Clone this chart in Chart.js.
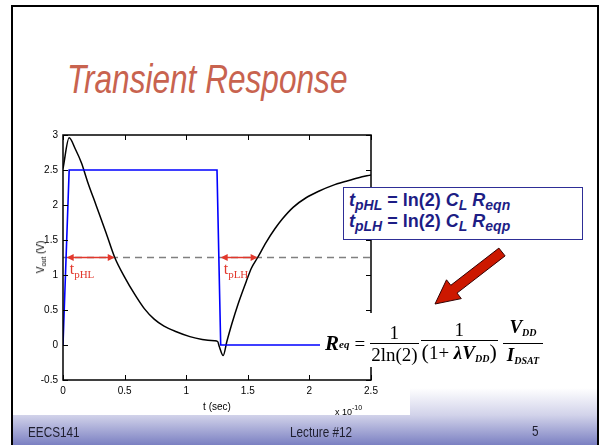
<!DOCTYPE html>
<html>
<head>
<meta charset="utf-8">
<script src="https://cdn.jsdelivr.net/npm/chart.js@4"></script>
<style>
  html, body { margin:0; padding:0; }
  body { width:602px; height:445px; position:relative; overflow:hidden; background:#fff; font-family:'Liberation Sans', Arial, sans-serif; }
  .abs { position:absolute; }
  #slideBg { left:12px; top:5px; width:586px; height:440px;
    background: linear-gradient(to bottom, #ffffff 0px, #ffffff 383px, #d2d3ea 410px, #7b80c2 440px); }
  #figBg { left:13px; top:110px; width:397px; height:305px; background:#fff; }
  #bL { left:11px; top:5px; width:2px; height:440px; background:#000; }
  #bT { left:11px; top:5px; width:588px; height:2px; background:#000; }
  #bR { left:597px; top:5px; width:2px; height:440px; background:#000; }
  #chartWrap { left:0; top:0; width:602px; height:445px; }
  #title { left:67px; top:59px; font-size:40px; line-height:40px; font-style:italic; color:#c8634f; transform:scaleX(0.79); transform-origin:left top; white-space:nowrap; }
  .foot { font-size:14px; line-height:14px; color:#1e1e2e; transform:scaleX(0.84); transform-origin:left top; white-space:nowrap; }
  #ylab { left:41px; top:257px; font-size:10px; transform:translate(-50%,-50%) rotate(-90deg); white-space:nowrap; color:#000; }
  #ylab sub { font-size:7px; vertical-align:-2px; }
  #xmul { left:335px; top:403px; font-size:9px; line-height:10px; white-space:nowrap; color:#000; }
  #xmul sup { font-size:7px; vertical-align:5px; }
  #tpBox { left:343px; top:187px; width:238px; height:51px; border:1.5px solid #2e2e96; background:#fff; }
  .tpLine { position:absolute; left:5px; font-weight:bold; font-size:18px; color:#1d1d85; white-space:nowrap; }
  .tpLine i { font-style:italic; }
  .tpLine sub { font-size:14px; font-style:italic; vertical-align:-4px; }
  #eqBox { left:320px; top:313px; width:245px; height:54px; background:#fff; }
  #eq { position:absolute; left:5px; top:3px; display:flex; align-items:center; font-family:'Liberation Serif','Times New Roman',serif; font-size:19px; color:#000; white-space:nowrap; }
  .bi { font-weight:bold; font-style:italic; }
  .frac { display:inline-flex; flex-direction:column; align-items:center; margin:0 1px; }
  .frac .num { line-height:21px; padding:0 1px; }
  .frac .den { line-height:21px; border-top:1px solid #000; padding:0 1px; }
  .sb { font-size:10px; vertical-align:-3px; }
  .big { font-size:22px; }
</style>
</head>
<body>
<div id="slideBg" class="abs"></div>
<div id="figBg" class="abs"></div>
<div id="bL" class="abs"></div>
<div id="bT" class="abs"></div>
<div id="bR" class="abs"></div>
<div id="title" class="abs">Transient Response</div>
<div id="chartWrap" class="abs"><canvas id="c" width="602" height="445"></canvas></div>
<div id="ylab" class="abs">V<sub>out</sub> (V)</div>
<div id="xmul" class="abs">x 10<sup>-10</sup></div>
<div id="tpBox" class="abs">
  <div class="tpLine" style="top:2px"><i>t</i><sub>pHL</sub> = ln(2) <i>C</i><sub>L</sub> <i>R</i><sub>eqn</sub></div>
  <div class="tpLine" style="top:23px"><i>t</i><sub>pLH</sub> = ln(2) <i>C</i><sub>L</sub> <i>R</i><sub>eqp</sub></div>
</div>
<svg class="abs" style="left:0;top:0" width="602" height="445">
  <polygon points="505.1,255.9 457,293.1 461.3,298.6 435,304 446.5,279.8 450.8,285.3 498.9,248.1"
    fill="#cc1800" stroke="#300" stroke-width="1"/>
</svg>
<div id="eqBox" class="abs">
  <div id="eq">
    <span class="bi" style="font-size:21px">R</span><span class="bi sb" style="font-size:11px;vertical-align:-5px">eq</span>
    <span style="margin:0 4px 0 5px">=</span>
    <span class="frac"><span class="num">1</span><span class="den">2ln(2)</span></span>
    <span class="frac"><span class="num">1</span><span class="den"><span class="big">(</span>1+ <span class="bi">&#955;V</span><span class="bi sb">DD</span><span class="big">)</span></span></span>
    <span class="frac" style="margin-left:4px"><span class="num" style="padding:0 4px"><span class="bi">V</span><span class="bi sb">DD</span></span><span class="den" style="padding:0 4px"><span class="bi">I</span><span class="bi sb">DSAT</span></span></span>
  </div>
</div>
<div class="abs foot" style="left:28px;top:425px">EECS141</div>
<div class="abs foot" style="left:290px;top:425px">Lecture #12</div>
<div class="abs foot" style="left:532px;top:424px">5</div>

<script>
// ---- data (time in units of 1e-10 s, voltage in V) ----
const vinTime  = [0, 0.05, 1.25, 1.28, 2.5];
const vinVolt  = [0, 2.5, 2.5, 0, 0];
const voutTime = [0, 0.05, 0.1, 0.15, 0.2, 0.27, 0.35, 0.42, 0.5, 0.58, 0.66, 0.74, 0.82, 0.92, 1.03, 1.13, 1.23, 1.255, 1.27, 1.3, 1.33, 1.37, 1.42, 1.49, 1.53, 1.58, 1.65, 1.72, 1.78, 1.87, 1.97, 2.08, 2.19, 2.3, 2.4, 2.5];
const voutVolt = [2.52, 2.96, 2.8, 2.6, 2.33, 1.99, 1.6, 1.25, 0.97, 0.73, 0.52, 0.37, 0.27, 0.19, 0.12, 0.08, 0.06, 0.05, -0.03, -0.15, 0.05, 0.3, 0.58, 0.92, 1.1, 1.25, 1.47, 1.66, 1.8, 1.97, 2.1, 2.2, 2.28, 2.34, 2.39, 2.43];
const thresholdTime = [0, 2.5];
const thresholdVolt = [1.25, 1.25];
const delayStart = [0.03, 1.28];
const delayEnd   = [0.42, 1.58];
const delayNames = ['pHL', 'pLH'];
const xTickValues = [0, 0.5, 1, 1.5, 2, 2.5];
const yTickValues = [-0.5, 0, 0.5, 1, 1.5, 2, 2.5, 3];

const pts = (xs, ys) => xs.map((v, i) => ({x: v, y: ys[i]}));
const RED = '#e2382c';

const framePlugin = {
  id: 'matlabFrame',
  afterDatasetsDraw(chart) {
    const {ctx, chartArea: a, scales: {x, y}} = chart;
    ctx.save();
    ctx.strokeStyle = '#000';
    ctx.lineWidth = 1.5;
    ctx.strokeRect(a.left, a.top, a.right - a.left, a.bottom - a.top);
    ctx.lineWidth = 1;
    const tl = 5;
    ctx.beginPath();
    xTickValues.forEach(v => {
      const px = Math.round(x.getPixelForValue(v)) + 0.5;
      ctx.moveTo(px, a.bottom); ctx.lineTo(px, a.bottom - tl);
      ctx.moveTo(px, a.top); ctx.lineTo(px, a.top + tl);
    });
    yTickValues.forEach(v => {
      const py = Math.round(y.getPixelForValue(v)) + 0.5;
      ctx.moveTo(a.left, py); ctx.lineTo(a.left + tl, py);
      ctx.moveTo(a.right, py); ctx.lineTo(a.right - tl, py);
    });
    ctx.stroke();
    ctx.restore();
  }
};

const delayPlugin = {
  id: 'delayArrows',
  afterDatasetsDraw(chart) {
    const {ctx, scales: {x, y}} = chart;
    const py = y.getPixelForValue(thresholdVolt[0]);
    ctx.save();
    delayStart.forEach((t0, i) => {
      const x0 = x.getPixelForValue(t0), x1 = x.getPixelForValue(delayEnd[i]);
      ctx.strokeStyle = RED; ctx.fillStyle = RED; ctx.lineWidth = 1.5;
      ctx.beginPath(); ctx.moveTo(x0 + 3, py); ctx.lineTo(x1 - 3, py); ctx.stroke();
      ctx.beginPath(); ctx.moveTo(x0, py); ctx.lineTo(x0 + 7, py - 3.5); ctx.lineTo(x0 + 7, py + 3.5); ctx.closePath(); ctx.fill();
      ctx.beginPath(); ctx.moveTo(x1, py); ctx.lineTo(x1 - 7, py - 3.5); ctx.lineTo(x1 - 7, py + 3.5); ctx.closePath(); ctx.fill();
      ctx.font = '16px "Liberation Serif", serif';
      ctx.textBaseline = 'alphabetic';
      const lx = x0 + 3, ly = py + 16;
      ctx.fillText('t', lx, ly);
      const w = ctx.measureText('t').width;
      ctx.font = '11px "Liberation Serif", serif';
      ctx.fillText(delayNames[i], lx + w, ly + 4);
    });
    ctx.restore();
  }
};

const tickFont = { family: '"Liberation Sans", Arial', size: 10 };

new Chart(document.getElementById('c'), {
  type: 'line',
  data: {
    datasets: [
      { data: pts(vinTime, vinVolt), borderColor: '#0000ff', borderWidth: 1.6, pointRadius: 0, tension: 0 },
      { data: pts(voutTime, voutVolt), borderColor: '#000000', borderWidth: 1.5, pointRadius: 0, cubicInterpolationMode: 'monotone' },
      { data: pts(thresholdTime, thresholdVolt), borderColor: '#808080', borderWidth: 1.5, borderDash: [7, 5], pointRadius: 0 }
    ]
  },
  options: {
    responsive: false,
    devicePixelRatio: 1,
    animation: false,
    events: [],
    layout: { padding: { left: 0, top: 135, right: 231, bottom: 30 } },
    plugins: { legend: { display: false }, tooltip: { enabled: false } },
    scales: {
      x: {
        type: 'linear', min: 0, max: 2.5,
        afterBuildTicks: s => { s.ticks = xTickValues.map(v => ({value: v})); },
        afterFit: s => { s.height = 35; },
        grid: { display: false, drawTicks: false },
        border: { display: false },
        ticks: { padding: 5, color: '#000', font: tickFont, maxRotation: 0, callback: v => String(v) },
        title: { display: true, text: 't (sec)', color: '#000', font: tickFont, padding: { top: 0, bottom: 2 } }
      },
      y: {
        type: 'linear', min: -0.5, max: 3,
        afterBuildTicks: s => { s.ticks = yTickValues.map(v => ({value: v})); },
        afterFit: s => { s.width = 63; },
        grid: { display: false, drawTicks: false },
        border: { display: false },
        ticks: { padding: 5, color: '#000', font: tickFont, callback: v => String(v) }
      }
    }
  },
  plugins: [framePlugin, delayPlugin]
});
</script>
</body>
</html>
